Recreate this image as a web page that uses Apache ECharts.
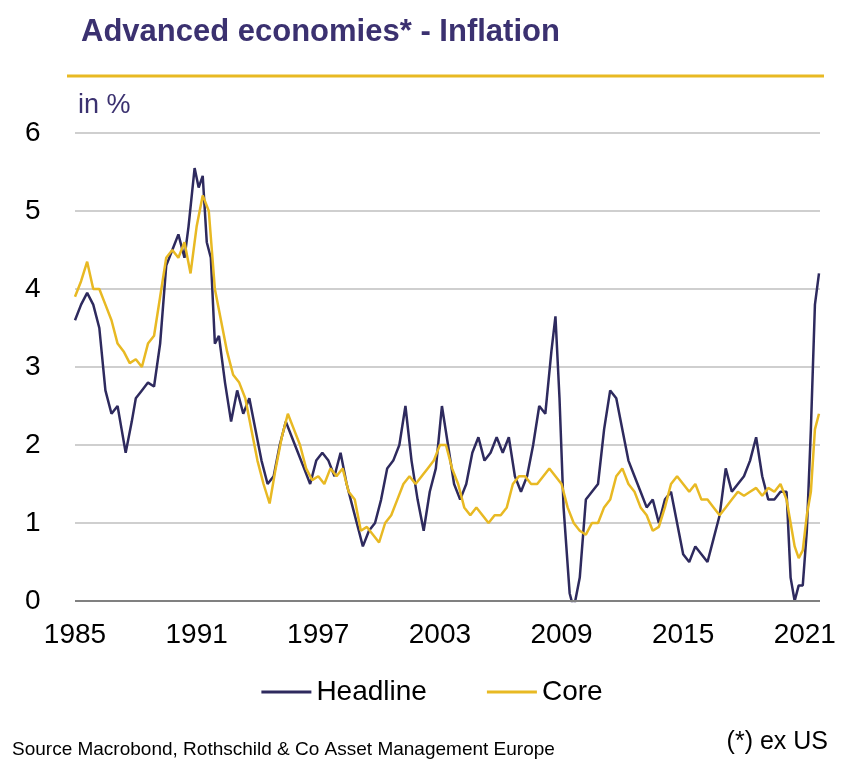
<!DOCTYPE html>
<html>
<head>
<meta charset="utf-8">
<script src="https://cdn.jsdelivr.net/npm/echarts@6/dist/echarts.min.js"></script>
<style>html,body{margin:0;padding:0;background:#fff}#chart{width:864px;height:773px}</style>
</head>
<body>
<div id="chart"></div>
<script>
// Headline inflation, approx. quarterly readings
const headlineYears = [1985.0,1985.3,1985.6,1985.9,1986.2,1986.5,1986.8,1987.1,1987.3,1987.5,1987.8,1988.0,1988.3,1988.6,1988.9,1989.2,1989.5,1989.8,1990.1,1990.4,1990.6,1990.9,1991.1,1991.3,1991.5,1991.7,1991.9,1992.1,1992.4,1992.7,1993.0,1993.3,1993.6,1993.9,1994.2,1994.5,1994.8,1995.1,1995.4,1995.7,1996.0,1996.3,1996.6,1996.9,1997.2,1997.5,1997.8,1998.1,1998.4,1998.7,1999.0,1999.2,1999.5,1999.8,2000.1,2000.4,2000.7,2001.0,2001.3,2001.6,2001.9,2002.2,2002.5,2002.8,2003.1,2003.4,2003.7,2004.0,2004.3,2004.6,2004.9,2005.2,2005.5,2005.8,2006.1,2006.4,2006.7,2007.0,2007.3,2007.6,2007.9,2008.2,2008.5,2008.7,2008.9,2009.1,2009.4,2009.6,2009.9,2010.2,2010.5,2010.8,2011.1,2011.4,2011.7,2012.0,2012.3,2012.6,2012.9,2013.2,2013.5,2013.8,2014.1,2014.4,2014.7,2015.0,2015.3,2015.6,2015.9,2016.2,2016.5,2016.8,2017.1,2017.4,2017.7,2018.0,2018.3,2018.6,2018.9,2019.2,2019.5,2019.8,2020.1,2020.3,2020.5,2020.7,2020.9,2021.1,2021.3,2021.5,2021.7];
const headlineValues = [3.6,3.8,3.95,3.8,3.5,2.7,2.4,2.5,2.2,1.9,2.3,2.6,2.7,2.8,2.75,3.3,4.3,4.5,4.7,4.4,4.8,5.55,5.3,5.45,4.6,4.4,3.3,3.4,2.8,2.3,2.7,2.4,2.6,2.2,1.8,1.5,1.6,2.0,2.3,2.1,1.9,1.7,1.5,1.8,1.9,1.8,1.6,1.9,1.5,1.2,0.9,0.7,0.9,1.0,1.3,1.7,1.8,2.0,2.5,1.8,1.3,0.9,1.4,1.7,2.5,2.0,1.5,1.3,1.5,1.9,2.1,1.8,1.9,2.1,1.9,2.1,1.6,1.4,1.6,2.0,2.5,2.4,3.2,3.65,2.6,1.2,0.1,-0.1,0.3,1.3,1.4,1.5,2.2,2.7,2.6,2.2,1.8,1.6,1.4,1.2,1.3,1.0,1.3,1.4,1.0,0.6,0.5,0.7,0.6,0.5,0.8,1.1,1.7,1.4,1.5,1.6,1.8,2.1,1.6,1.3,1.3,1.4,1.4,0.3,0.0,0.2,0.2,0.9,2.2,3.8,4.2];

// Core inflation
const coreYears = [1985.0,1985.3,1985.6,1985.9,1986.2,1986.5,1986.8,1987.1,1987.4,1987.7,1988.0,1988.3,1988.6,1988.9,1989.2,1989.5,1989.8,1990.1,1990.4,1990.7,1991.0,1991.3,1991.6,1991.9,1992.2,1992.5,1992.8,1993.1,1993.4,1993.7,1994.0,1994.3,1994.6,1994.9,1995.2,1995.5,1995.8,1996.1,1996.4,1996.7,1997.0,1997.3,1997.6,1997.9,1998.2,1998.5,1998.8,1999.1,1999.4,1999.7,2000.0,2000.3,2000.6,2000.9,2001.2,2001.5,2001.8,2002.1,2002.4,2002.7,2003.0,2003.3,2003.6,2003.9,2004.2,2004.5,2004.8,2005.1,2005.4,2005.7,2006.0,2006.3,2006.6,2006.9,2007.2,2007.5,2007.8,2008.1,2008.4,2008.7,2009.0,2009.3,2009.6,2009.9,2010.2,2010.5,2010.8,2011.1,2011.4,2011.7,2012.0,2012.3,2012.6,2012.9,2013.2,2013.5,2013.8,2014.1,2014.4,2014.7,2015.0,2015.3,2015.6,2015.9,2016.2,2016.5,2016.8,2017.1,2017.4,2017.7,2018.0,2018.3,2018.6,2018.9,2019.2,2019.5,2019.8,2020.1,2020.3,2020.5,2020.7,2020.9,2021.1,2021.3,2021.5,2021.7];
const coreValues = [3.9,4.1,4.35,4.0,4.0,3.8,3.6,3.3,3.2,3.05,3.1,3.0,3.3,3.4,3.9,4.4,4.5,4.4,4.6,4.2,4.8,5.2,5.0,4.0,3.6,3.2,2.9,2.8,2.6,2.2,1.8,1.5,1.25,1.7,2.1,2.4,2.2,2.0,1.7,1.55,1.6,1.5,1.7,1.6,1.7,1.4,1.3,0.9,0.95,0.85,0.75,1.0,1.1,1.3,1.5,1.6,1.5,1.6,1.7,1.8,2.0,2.0,1.7,1.5,1.2,1.1,1.2,1.1,1.0,1.1,1.1,1.2,1.5,1.6,1.6,1.5,1.5,1.6,1.7,1.6,1.5,1.2,1.0,0.9,0.85,1.0,1.0,1.2,1.3,1.6,1.7,1.5,1.4,1.2,1.1,0.9,0.95,1.2,1.5,1.6,1.5,1.4,1.5,1.3,1.3,1.2,1.1,1.2,1.3,1.4,1.35,1.4,1.45,1.35,1.45,1.4,1.5,1.3,1.0,0.7,0.55,0.65,1.1,1.4,2.2,2.4];

const yTicks = [0, 1, 2, 3, 4, 5, 6];

const chart = echarts.init(document.getElementById('chart'));
const pair = (xs, ys) => xs.map((x, i) => [x, ys[i]]);

chart.setOption({
  animation: false,
  textStyle: { fontFamily: 'Arial, "Liberation Sans", sans-serif' },
  title: {
    text: 'Advanced economies* - Inflation',
    left: 76, top: 12,
    textStyle: { color: '#3b3170', fontSize: 31, fontWeight: 'bold' }
  },
  graphic: [
    { type: 'line', shape: { x1: 67, y1: 76, x2: 824, y2: 76 }, style: { stroke: '#e8b923', lineWidth: 3 } },
    { type: 'text', left: 78, top: 92, style: { text: 'in %', fontSize: 27, fill: '#3b3170', fontFamily: 'Arial' } },
    { type: 'text', left: 12, top: 740, style: { text: 'Source Macrobond, Rothschild & Co Asset Management Europe', fontSize: 19, fill: '#000', fontFamily: 'Arial' } },
    { type: 'text', right: 36, top: 730, style: { text: '(*) ex US', fontSize: 25, fill: '#000', fontFamily: 'Arial' } }
  ],
  legend: {
    bottom: 62, left: 'center', itemGap: 60, itemWidth: 50, itemHeight: 3,
    icon: 'rect',
    textStyle: { fontSize: 28, color: '#000' },
    data: ['Headline', 'Core']
  },
  grid: { left: 75, right: 44, top: 133, bottom: 172 },
  xAxis: {
    type: 'value', min: 1985, max: 2021.75, interval: 6,
    axisLine: { show: false },
    axisTick: { show: false },
    splitLine: { show: false },
    axisLabel: { fontSize: 28, color: '#000', margin: 20, showMaxLabel: false, formatter: v => String(v) }
  },
  yAxis: {
    type: 'value', min: yTicks[0], max: yTicks[yTicks.length - 1], interval: 1,
    axisLine: { show: false },
    axisTick: { show: false },
    splitLine: { lineStyle: { color: '#bfbfbf', width: 1.5 } },
    axisLabel: { fontSize: 28, color: '#000', margin: 50, align: 'left' }
  },
  series: [
    {
      name: 'Headline', type: 'line', showSymbol: false,
      data: pair(headlineYears, headlineValues),
      lineStyle: { color: '#2e2a5e', width: 2.5 }, itemStyle: { color: '#2e2a5e' },
      markLine: {
        silent: true, symbol: 'none', label: { show: false },
        lineStyle: { color: '#808080', width: 2, type: 'solid' },
        data: [{ yAxis: 0 }]
      }
    },
    {
      name: 'Core', type: 'line', showSymbol: false, z: 3,
      data: pair(coreYears, coreValues),
      lineStyle: { color: '#e8b923', width: 2.5 }, itemStyle: { color: '#e8b923' }
    }
  ]
});
</script>
</body>
</html>
